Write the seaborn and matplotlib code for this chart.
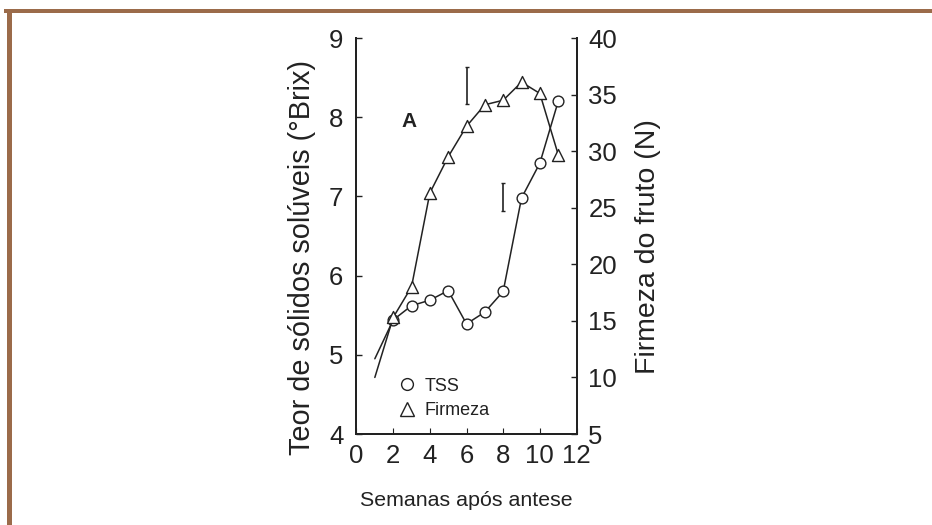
import numpy as np
import pandas as pd
import matplotlib
matplotlib.use("Agg")
import matplotlib.pyplot as plt
from matplotlib.lines import Line2D
from matplotlib.patches import Rectangle
import seaborn as sns

# ---- data ----
weeks = [1, 2, 3, 4, 5, 6, 7, 8, 9, 10, 11]
tss = [4.95, 5.44, 5.62, 5.69, 5.81, 5.39, 5.54, 5.80, 6.98, 7.42, 8.20]
firmeza = [10.0, 15.3, 18.0, 26.3, 29.5, 32.2, 34.1, 34.5, 36.1, 35.1, 29.7]
marker_start = 2  # markers shown from week 2
lsd_firmeza_x, lsd_firmeza_center, lsd_firmeza = 6, 35.8, 3.3
lsd_tss_x, lsd_tss_center, lsd_tss = 8, 6.99, 0.36
left_ticks = [4, 5, 6, 7, 8, 9]
right_ticks = [5, 10, 15, 20, 25, 30, 35, 40]
x_ticks = [0, 2, 4, 6, 8, 10, 12]

df = pd.DataFrame({"week": weeks, "tss": tss, "firmeza": firmeza})
dfm = df[df["week"] >= marker_start]

sns.set_theme(style="white")
plt.rcParams["font.family"] = ["Liberation Sans", "DejaVu Sans"]

ink = "#222222"
fig = plt.figure(figsize=(9.32, 5.25), dpi=100)
ax = fig.add_axes([0.3825, 0.1733, 0.2361, 0.7543])
ax2 = ax.twinx()

# TSS on left axis
sns.lineplot(data=df, x="week", y="tss", ax=ax, color=ink, linewidth=1.1)
sns.scatterplot(data=dfm, x="week", y="tss", ax=ax, marker="o", s=60,
                facecolor="white", edgecolor=ink, linewidth=1.0, zorder=3)
ax.errorbar([lsd_tss_x], [lsd_tss_center], yerr=[lsd_tss / 2], fmt="none",
            ecolor=ink, elinewidth=1.2, capsize=1.5, capthick=1.0)

# Firmeza on right axis
sns.lineplot(data=df, x="week", y="firmeza", ax=ax2, color=ink, linewidth=1.1)
sns.scatterplot(data=dfm, x="week", y="firmeza", ax=ax2, marker="^", s=75,
                facecolor="white", edgecolor=ink, linewidth=1.0, zorder=3)
ax2.errorbar([lsd_firmeza_x], [lsd_firmeza_center], yerr=[lsd_firmeza / 2], fmt="none",
             ecolor=ink, elinewidth=1.2, capsize=1.5, capthick=1.0)

ax.set_xlim(0, 12)
ax.set_ylim(4, 9)
ax2.set_ylim(5, 40)
ax.set_xticks(x_ticks)
ax.set_yticks(left_ticks)
ax2.set_yticks(right_ticks)

for a in (ax, ax2):
    for s in a.spines.values():
        s.set_color(ink)
        s.set_linewidth(1.4)
    a.spines["top"].set_visible(False)
    a.grid(False)
    a.set_facecolor("none")

ax.tick_params(axis="y", direction="in", length=4, width=1, colors=ink,
               labelsize=18.5, pad=9.5, left=True, right=False)
ax.tick_params(axis="x", direction="in", length=4, width=0.8, colors=ink,
               labelsize=18.5, pad=7, bottom=True)
ax2.tick_params(axis="y", direction="in", length=4, width=1, colors=ink,
                labelsize=18.5, pad=8.5, right=True)

ax.set_xlabel("Semanas após antese", fontsize=15.4, color=ink, labelpad=17)
ax.set_ylabel("Teor de sólidos solúveis (°Brix)", fontsize=20.8, color=ink, labelpad=9)
ax2.set_ylabel("Firmeza do fruto (N)", fontsize=20.5, color=ink, labelpad=13)
ax.yaxis.label.set_y(0.447)
ax2.yaxis.label.set_y(0.473)

ax.text(2.86, 7.95, "A", fontsize=15, fontweight="bold", color=ink,
        ha="center", va="center")

handles = [
    Line2D([], [], linestyle="none", marker="o", markersize=8.5,
           markerfacecolor="white", markeredgecolor=ink, markeredgewidth=1.0),
    Line2D([], [], linestyle="none", marker="^", markersize=9.5,
           markerfacecolor="white", markeredgecolor=ink, markeredgewidth=1.0),
]
leg = ax.legend(handles, ["TSS", "Firmeza"], loc="lower left",
                bbox_to_anchor=(0.155, 0.02), frameon=False, fontsize=13,
                handlelength=1.0, handletextpad=0.5, labelspacing=0.4,
                borderaxespad=0.0)
for t in leg.get_texts():
    t.set_color(ink)

# brown page frame
brown = "#9b6b4a"
fig.add_artist(Rectangle((4 / 932, 1 - 13 / 525), 1, 4 / 525,
                         transform=fig.transFigure, color=brown, lw=0))
fig.add_artist(Rectangle((7 / 932, 0), 5 / 932, 1 - 10 / 525,
                         transform=fig.transFigure, color=brown, lw=0))

fig.savefig("out.png", dpi=100)
